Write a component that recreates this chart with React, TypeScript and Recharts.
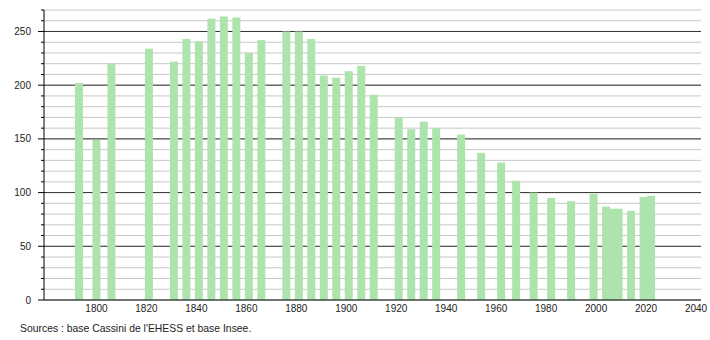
import React from 'react'
import { BarChart, Bar, XAxis, YAxis, CartesianGrid } from 'recharts'

// census years and population
const years = [
    1793, 1800, 1806, 1821, 1831, 1836, 1841, 1846, 1851, 1856,
    1861, 1866, 1876, 1881, 1886, 1891, 1896, 1901, 1906, 1911,
    1921, 1926, 1931, 1936, 1946, 1954, 1962, 1968, 1975, 1982,
    1990, 1999, 2004, 2006, 2009, 2014, 2019, 2022,
]
const population = [
    202, 149, 220, 234, 222, 243, 241, 262, 264, 263,
    230, 242, 250, 250, 243, 209, 207, 213, 218, 191,
    170, 159, 166, 160, 154, 137, 128, 111, 100, 95,
    92, 99, 87, 85, 85, 83, 96, 97,
]
const xTicks = [1800, 1820, 1840, 1860, 1880, 1900, 1920, 1940, 1960, 1980, 2000, 2020, 2040]
const yTicks = [0, 10, 20, 30, 40, 50, 60, 70, 80, 90, 100, 110, 120, 130, 140, 150, 160, 170, 180, 190, 200, 210, 220, 230, 240, 250, 260, 270]
const majorLines = [50, 100, 150, 200, 250]
const source = "Sources : base Cassini de l'EHESS et base Insee."

const FONT = '"Liberation Sans", Arial, sans-serif'
const BAR_W = 8

const data = years.map((y, i) => ({ year: y, pop: population[i] }))

function XTick({ x, y, payload }: any) {
    return (
        <text x={x} y={y + 12} textAnchor="middle" fontSize={10} fontFamily={FONT} fill="#222">
            {payload.value}
        </text>
    )
}

function YTick({ x, y, payload }: any) {
    const major = payload.value % 50 === 0
    return (
        <g>
            <line x1={x - (major ? 6 : 3)} x2={x} y1={y} y2={y} stroke="#000" strokeWidth={1} />
            {major && (
                <text x={x - 13} y={y + 3.5} textAnchor="end" fontSize={10} fontFamily={FONT} fill="#222">
                    {payload.value}
                </text>
            )}
        </g>
    )
}

// keep the bar centred on its year but give it a fixed width
function WideBar({ x, y, width, height, fill }: any) {
    const cx = x + width / 2
    return <rect x={cx - BAR_W / 2} y={y} width={BAR_W} height={height} fill={fill} />
}

export default function App() {
    return (
        <div style={{ position: 'relative', width: 710, height: 340, background: '#fff' }}>
            <style>{`body{margin:0}`}</style>
            <BarChart width={710} height={320} data={data} margin={{ top: 10, right: 9, left: 0, bottom: 0 }}>
                <CartesianGrid vertical={false} stroke="#c8c8c8" />
                <CartesianGrid vertical={false} stroke="#333" horizontalValues={majorLines} />
                <XAxis
                    dataKey="year"
                    type="number"
                    domain={[1779, 2042]}
                    ticks={xTicks}
                    interval={0}
                    height={20}
                    tickLine={false}
                    tickSize={0}
                    tickMargin={0}
                    axisLine={{ stroke: '#000' }}
                    tick={<XTick />}
                    allowDataOverflow
                />
                <YAxis
                    type="number"
                    domain={[0, 270]}
                    ticks={yTicks}
                    interval={0}
                    width={44}
                    tickLine={false}
                    tickSize={0}
                    tickMargin={0}
                    axisLine={{ stroke: '#000' }}
                    tick={<YTick />}
                />
                <Bar dataKey="pop" fill="#ade4ad" shape={<WideBar />} isAnimationActive={false} />
            </BarChart>
            <div style={{ position: 'absolute', left: 20, top: 323, fontSize: 10.4, fontFamily: FONT, color: '#222' }}>
                {source}
            </div>
        </div>
    )
}
